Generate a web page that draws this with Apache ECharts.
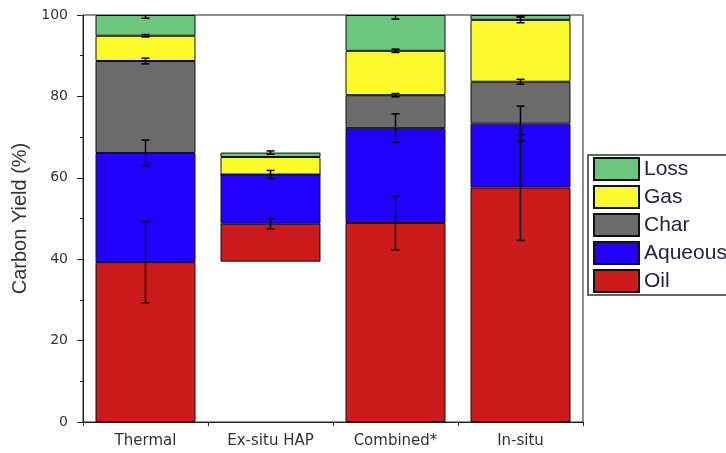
<!DOCTYPE html>
<html>
<head>
<meta charset="utf-8">
<script src="https://cdn.jsdelivr.net/npm/echarts@6/dist/echarts.min.js"></script>
<style>
  html, body { margin: 0; padding: 0; background: #fff; }
  #chart { width: 726px; height: 453px; }
</style>
</head>
<body>
<div id="chart"></div>
<script>
// Carbon yield per product fraction for each upgrading route (%)
const categories = ['Thermal', 'Ex-situ HAP', 'Combined*', 'In-situ'];
// invisible offset under each column (the Ex-situ HAP column floats)
const baseVals    = [0, 39.4, 0, 0];
const oilVals     = [39.3, 9.3, 48.9, 57.6];
const aqueousVals = [26.8, 12.1, 23.3, 15.7];
const charVals    = [22.6, 0, 8.1, 10.3];
const gasVals     = [6.2, 4.3, 10.9, 15.2];
const lossVals    = [5.1, 1.1, 8.8, 1.2];
// ± spread drawn at the top of each segment
const oilErr     = [10.0, 1.3, 6.6, 13.0];
const aqueousErr = [3.2, 1.0, 3.5, 4.3];
const charErr    = [0.7, 0, 0.4, 0.6];
const gasErr     = [0.3, 0, 0.4, 0.7];
const lossErr    = [0.8, 0.4, 1.0, 0.4];
const yTicks = [0, 20, 40, 60, 80, 100];

const layers = [
  { name: 'Oil',     vals: oilVals,     err: oilErr,     color: '#cb1b1c' },
  { name: 'Aqueous', vals: aqueousVals, err: aqueousErr, color: '#2200ff' },
  { name: 'Char',    vals: charVals,    err: charErr,    color: '#6b6b6b' },
  { name: 'Gas',     vals: gasVals,     err: gasErr,     color: '#fbfb2b' },
  { name: 'Loss',    vals: lossVals,    err: lossErr,    color: '#6cc77e' }
];

// error bar points: [category index, segment top, spread]
const errData = [];
const running = baseVals.slice();
layers.forEach(l => {
  l.vals.forEach((v, i) => {
    running[i] += v;
    if (l.err[i] > 0) errData.push([i, running[i], l.err[i]]);
  });
});

function renderErr(params, api) {
  const i = api.value(0), c = api.value(1), e = api.value(2);
  const lo = api.coord([i, c - e]);
  const hi = api.coord([i, c + e]);
  const x = lo[0], hw = 4;
  const style = { stroke: '#000', lineWidth: 1.5 };
  return {
    type: 'group',
    children: [
      { type: 'line', shape: { x1: x, y1: lo[1], x2: x, y2: hi[1] }, style: style },
      { type: 'line', shape: { x1: x - hw, y1: lo[1], x2: x + hw, y2: lo[1] }, style: style },
      { type: 'line', shape: { x1: x - hw, y1: hi[1], x2: x + hw, y2: hi[1] }, style: style }
    ]
  };
}

const axisColor = '#222';
const sansFont = "'Liberation Sans', Arial, sans-serif";
const series = [{
  name: 'base', type: 'bar', stack: 'total', barWidth: '80%',
  data: baseVals, silent: true,
  itemStyle: { color: 'rgba(0,0,0,0)', borderWidth: 0 }
}];
layers.forEach(l => {
  series.push({
    name: l.name, type: 'bar', stack: 'total', barWidth: '80%',
    data: l.vals,
    itemStyle: { color: l.color, borderColor: '#111', borderWidth: 1 },
    emphasis: { disabled: true }
  });
});
series.push({
  type: 'custom', name: 'err', renderItem: renderErr, data: errData,
  encode: { x: 0, y: 1 }, clip: true, z: 5, silent: true
});

const chart = echarts.init(document.getElementById('chart'));
chart.setOption({
  animation: false,
  grid: { left: 83, right: 143, top: 15, bottom: 31, show: true, borderColor: axisColor, borderWidth: 1 },
  legend: {
    data: ['Loss', 'Gas', 'Char', 'Aqueous', 'Oil'],
    orient: 'vertical', left: 588, top: 155,
    itemWidth: 45, itemHeight: 22, itemGap: 4,
    padding: [2, 30, 2, 5],
    borderColor: '#333', borderWidth: 1.5,
    icon: 'rect',
    selectedMode: false,
    textStyle: { fontFamily: sansFont, fontSize: 21, color: '#23234a', lineHeight: 22 }
  },
  xAxis: [{
    type: 'category', data: categories,
    axisLine: { lineStyle: { color: axisColor, width: 1 } },
    axisTick: { alignWithLabel: true, length: 6, lineStyle: { color: axisColor } },
    axisLabel: { fontFamily: 'DejaVu Sans', fontSize: 15, color: '#333', margin: 12 }
  }, {
    type: 'category', data: categories, position: 'bottom', offset: 0,
    axisLine: { show: false },
    axisTick: { show: true, interval: 0, length: 4, lineStyle: { color: axisColor } },
    axisLabel: { show: false }
  }],
  yAxis: {
    type: 'value',
    min: yTicks[0], max: yTicks[yTicks.length - 1], interval: yTicks[1] - yTicks[0],
    axisLine: { show: true, lineStyle: { color: axisColor, width: 1 } },
    axisTick: { show: true, length: 6, lineStyle: { color: axisColor } },
    minorTick: { show: true, splitNumber: 2, length: 3, lineStyle: { color: axisColor } },
    splitLine: { show: false },
    axisLabel: { fontFamily: 'DejaVu Sans', fontSize: 14, color: '#333', margin: 15 },
    name: 'Carbon Yield (%)', nameLocation: 'middle', nameGap: 43,
    nameTextStyle: { fontFamily: sansFont, fontSize: 20, color: '#333' }
  },
  series: series
});
</script>
</body>
</html>
